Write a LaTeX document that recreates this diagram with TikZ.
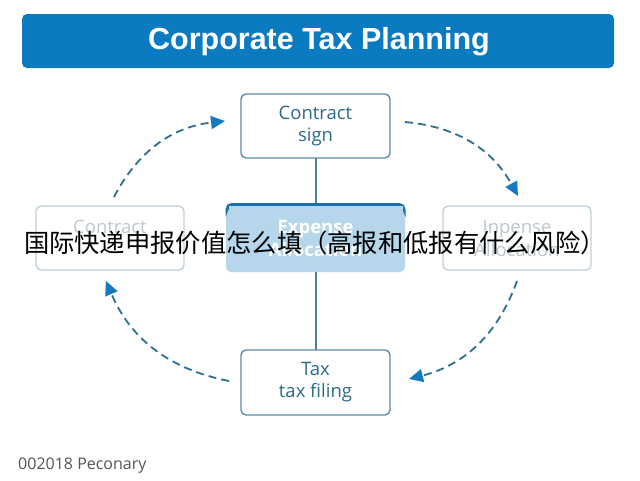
\documentclass[tikz,border=0pt]{standalone}
\usepackage{fontspec}
\setmainfont{Open Sans}
\newfontfamily\titlefont{Liberation Sans}
\newfontfamily\cjk{Noto Sans CJK SC}
\usetikzlibrary{arrows.meta}
\definecolor{titleblue}{HTML}{0A7BC1}
\definecolor{boxline}{HTML}{5C8DA9}
\definecolor{boxtext}{HTML}{2B6A88}
\definecolor{fadeline}{HTML}{BFD0DB}
\definecolor{fadetext}{HTML}{BCC7CF}
\definecolor{midfill}{HTML}{B6D7EB}
\definecolor{midtop}{HTML}{1C70AC}
\definecolor{arcline}{HTML}{2F6E90}
\definecolor{arrowblue}{HTML}{1479BF}
\definecolor{linkline}{HTML}{4D809E}
\definecolor{foot}{HTML}{555555}
\tikzset{
  stepbox/.style={draw=boxline, line width=1.4pt, rounded corners=5pt, fill=white},
  fadebox/.style={draw=fadeline, line width=1.4pt, rounded corners=5pt, fill=white},
  boxlabel/.style={text=boxtext, font=\fontsize{18.5}{22}\selectfont, align=center},
  fadelabel/.style={text=fadetext, font=\fontsize{18.5}{23}\selectfont, align=center},
  cycarrow/.style={draw=arcline, line width=1.8pt, dash pattern=on 8pt off 5pt,
    -{Triangle[length=14pt,width=13pt,fill=arrowblue,color=arrowblue,sep=0pt]}},
}
\begin{document}
\begin{tikzpicture}[x=1pt,y=-1pt]
\useasboundingbox (0,0) rectangle (640,480);
\fill[white] (0,0) rectangle (640,480);
% title
\node[fill=titleblue, rounded corners=5pt, minimum width=592pt, minimum height=54pt, inner sep=0pt] (title) at (318,41) {};
\node[text=white, font=\titlefont\fontsize{30.5}{34}\bfseries\selectfont] (titletext) at (319,42) {Corporate Tax Planning};
% boxes
\draw[stepbox] (241,94) rectangle (390,158);
\node[boxlabel] (top) at (315.5,126) {Contract\\sign};
\coordinate (topS) at (316,158);
\draw[stepbox] (241,350) rectangle (390,415);
\node[boxlabel] (bot) at (315.5,382) {Tax\\tax filing};
\coordinate (botN) at (316,350);
\draw[fadebox] (36,206) rectangle (184,270);
\node[fadelabel] (left) at (110,227) {Contract};
\draw[fadebox] (443,206) rectangle (591,270);
\node[fadelabel] (right) at (517,238) {Inpense\\Allocation};
% centre box
\fill[midfill, rounded corners=5pt] (226,203) rectangle (405,272);
\draw[midtop, line width=3pt, rounded corners=5pt] (227,209) -- (227,204.5) -- (404,204.5) -- (404,209);
\fill[midfill] (228.5,206) rectangle (402.5,212);
\node[text=white, font=\fontsize{18.5}{23}\bfseries\selectfont, align=center] (mid) at (315.5,238) {Expense\\Allocation};
\coordinate (midN) at (316,203);
\coordinate (midS) at (316,272);
% links
\draw[linkline, line width=1.2pt] (topS) -- (midN);
\draw[linkline, line width=1.2pt] (midS) -- (botN);
% cycle arrows
\coordinate (a1) at (114,197);
\coordinate (a1e) at (225,121);
\coordinate (a2) at (405,122);
\coordinate (a2e) at (518,196);
\coordinate (a3) at (517,281);
\coordinate (a3e) at (409,379);
\coordinate (a4) at (229,381);
\coordinate (a4e) at (106,281);
\draw[cycarrow] (a1) to[bend left=28] (a1e);
\draw[cycarrow] (a2) to[bend left=28] (a2e);
\draw[cycarrow] (a3) to[bend left=28] (a3e);
\draw[cycarrow] (a4) to[bend left=28] (a4e);
% overlay
\node[text=black, font=\cjk\fontsize{25.3}{30}\selectfont, inner sep=0pt] (overlay) at (315,243) {国际快递申报价值怎么填（高报和低报有什么风险）};
% footer
\node[anchor=west, text=foot, font=\fontsize{16}{19}\selectfont, inner sep=0pt] (footer) at (18,466) {002018 Peconary};
\end{tikzpicture}
\end{document}
